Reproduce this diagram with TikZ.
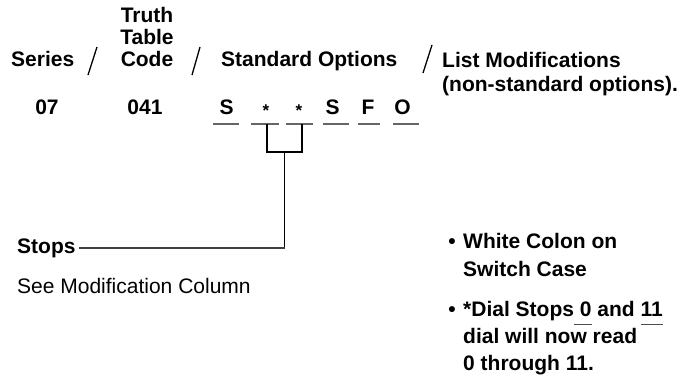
\documentclass[tikz,border=0pt]{standalone}
\usepackage{fontspec}
\setmainfont{Liberation Sans}
\newsavebox\myulbox
\newcommand\myul[1]{\sbox{\myulbox}{#1}\rlap{\textcolor{black!70}{\rule[-8.5pt]{\wd\myulbox}{1pt}}}\usebox{\myulbox}}
\tikzset{
  lbl/.style={inner sep=0pt, font=\fontsize{21}{22}\selectfont\bfseries},
  note/.style={inner sep=0pt, font=\fontsize{21}{22}\selectfont},
  star/.style={inner sep=0pt, font=\fontsize{17}{18}\selectfont\bfseries},
  slash/.style={line width=1.3pt},
  uline/.style={line width=1.2pt, black!60},
  brk/.style={line width=1.6pt},
  thinlead/.style={line width=1.2pt, black!75},
}
\begin{document}
\begin{tikzpicture}[x=1pt,y=-1pt]
\useasboundingbox (0,0) rectangle (700,379);
% header row
\node[lbl,anchor=base west] (series) at (11,67) {Series};
\coordinate (s1a) at (88,75); \coordinate (s1b) at (97,47);
\draw[slash] (s1a) -- (s1b);
\node[lbl,anchor=base] (truth) at (147,23) {Truth};
\node[lbl,anchor=base] (table) at (147,45) {Table};
\node[lbl,anchor=base] (code) at (147,67) {Code};
\coordinate (s2a) at (192,75); \coordinate (s2b) at (200,47);
\draw[slash] (s2a) -- (s2b);
\node[lbl,anchor=base west] (std) at (221,67) {Standard Options};
\coordinate (s3a) at (423,73); \coordinate (s3b) at (432,45);
\draw[slash] (s3a) -- (s3b);
\node[lbl,anchor=base west] (list) at (442,68) {List Modifications};
\node[lbl,anchor=base west] (nonstd) at (442,92) {(non-standard options).};
% code row
\node[lbl,anchor=base] (c07) at (47,115) {07};
\node[lbl,anchor=base] (c041) at (145,115) {041};
\node[lbl,anchor=base] (o1) at (226.5,115) {S};
\node[star,anchor=base] (o2) at (266,117) {*};
\node[star,anchor=base] (o3) at (299,117) {*};
\node[lbl,anchor=base] (o4) at (332.5,115) {S};
\node[lbl,anchor=base] (o5) at (368,115) {F};
\node[lbl,anchor=base] (o6) at (402.5,115) {O};
\draw[uline] (213,124) -- (239,124);
\draw[uline] (251,124) -- (279,124);
\draw[uline] (286,124) -- (313,124);
\draw[uline] (323,124) -- (349,124);
\draw[uline] (358,124) -- (380,124);
\draw[uline] (393,124) -- (419,124);
% bracket
\coordinate (bl) at (267,124);
\coordinate (br) at (302,124);
\coordinate (stem) at (284.5,152);
\draw[brk] (bl) -- (267,152) -- (302,152) -- (br);
\node[lbl,anchor=base west] (stops) at (17,253) {Stops};
\draw[brk] (stem) -- (284.5,248);
\draw[thinlead] (285.3,248) -- ([xshift=3pt]stops.mid east |- 0,248);
\node[note,anchor=base west] (see) at (17,293) {See Modification Column};
% notes
\node[lbl,anchor=base] (b1) at (452,248) {•};
\node[lbl,anchor=base west] (w1) at (463,248) {White Colon on};
\node[lbl,anchor=base west] (w2) at (463,276) {Switch Case};
\node[lbl,anchor=base] (b2) at (452,316) {•};
\node[lbl,anchor=base west] (d1) at (463,316) {*Dial Stops\myul{ 0} and \myul{11}};
\node[lbl,anchor=base west] (d2) at (463,343) {dial will now read};
\node[lbl,anchor=base west] (d3) at (463,370) {0 through 11.};
\end{tikzpicture}
\end{document}
